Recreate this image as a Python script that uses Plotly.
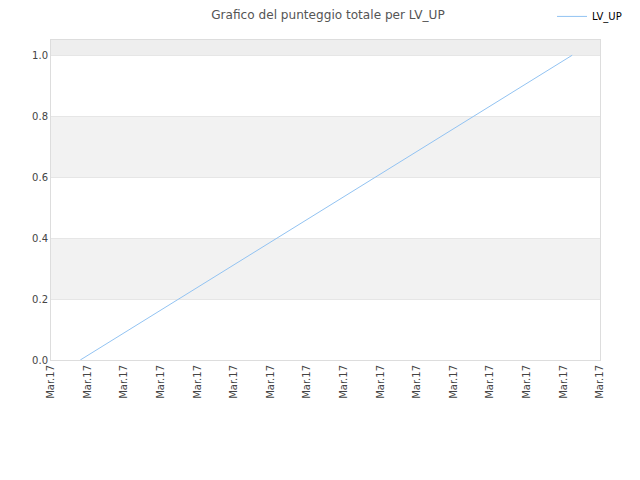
import plotly.graph_objects as go

# dati
punti_x = [0.8, 14.24]
punteggio = [0.0, 1.0]
tick_pos = list(range(16))
tick_label = ["Mar.17"] * 16
y_tick = [0.0, 0.2, 0.4, 0.6, 0.8, 1.0]

fig = go.Figure()
fig.add_trace(go.Scatter(x=punti_x, y=punteggio, mode="lines", name="LV_UP",
                         line=dict(color="#92c3f2", width=1)))

# fasce grigie alternate
bande = [(0.2, 0.4, "#f2f2f2"), (0.6, 0.8, "#f2f2f2"), (1.0, 1.05, "#eeeeee")]
for y0, y1, col in bande:
    fig.add_shape(type="rect", xref="paper", yref="y", x0=0, x1=1, y0=y0, y1=y1,
                  fillcolor=col, line_width=0, layer="below")

fig.update_layout(
    width=640, height=480,
    margin=dict(l=43, r=48, t=32, b=128, autoexpand=False),
    paper_bgcolor="white", plot_bgcolor="white",
    font=dict(family="DejaVu Sans", size=10, color="#444"),
    title=dict(text="Grafico del punteggio totale per LV_UP", x=0.5, xanchor="center",
               y=0.994, yanchor="top", font=dict(size=12.1, color="#555")),
    showlegend=True,
    legend=dict(x=0.9126, y=1.119, xanchor="left", yanchor="top",
                font=dict(size=10, color="#000"), bgcolor="rgba(0,0,0,0)"),
    xaxis=dict(range=[0, 15], tickmode="array", tickvals=tick_pos, ticktext=tick_label,
               tickangle=-90, showgrid=False, zeroline=False, showline=True,
               linecolor="#dddddd", mirror=True, ticks="", fixedrange=True),
    yaxis=dict(range=[0, 1.05], tickmode="array", tickvals=y_tick,
               ticktext=[f"{v:.1f}" for v in y_tick], showgrid=True, gridcolor="#e6e6e6",
               zeroline=False, showline=True, linecolor="#dddddd", mirror=True, ticks=""),
)

fig.write_html("out.html")
